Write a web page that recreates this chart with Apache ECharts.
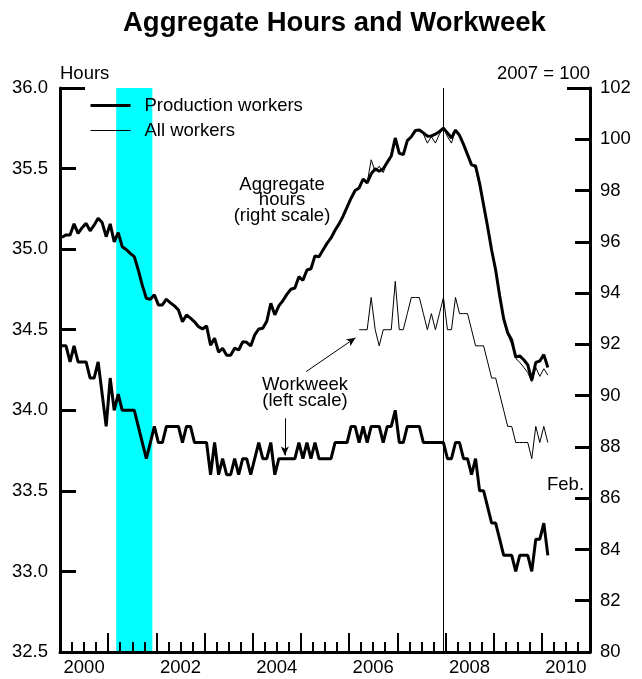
<!DOCTYPE html>
<html>
<head>
<meta charset="utf-8">
<title>Aggregate Hours and Workweek</title>
<script src="https://cdn.jsdelivr.net/npm/echarts@6/dist/echarts.min.js"></script>
<style>
  html, body { margin: 0; padding: 0; background: #fff; }
  #chart { width: 642px; height: 679px; }
</style>
</head>
<body>
<div id="chart"></div>
<script>
// monthly data, month 0 = Jan 2000
var startYear = 2000
var yearLabels = [2000, 2002, 2004, 2006, 2008, 2010]
var recession = [14, 23] // Mar 2001 - Nov 2001
var peakMonth = 95 // Dec 2007

// average weekly hours, production workers (left scale)
var workweekProd = [
  34.4, 34.4, 34.3, 34.4, 34.3, 34.3, 34.3, 34.2, 34.2, 34.3, 34.1, 33.9,
  34.2, 34.0, 34.1, 34.0, 34.0, 34.0, 34.0, 33.9, 33.8, 33.7, 33.8, 33.9,
  33.8, 33.8, 33.9, 33.9, 33.9, 33.9, 33.8, 33.9, 33.9, 33.8, 33.8, 33.8,
  33.8, 33.6, 33.8, 33.6, 33.7, 33.6, 33.6, 33.7, 33.6, 33.7, 33.7, 33.6,
  33.7, 33.8, 33.7, 33.7, 33.8, 33.6, 33.7, 33.7, 33.7, 33.7, 33.7, 33.8,
  33.7, 33.8, 33.7, 33.8, 33.7, 33.7, 33.7, 33.7, 33.8, 33.8, 33.8, 33.8,
  33.9, 33.9, 33.8, 33.9, 33.8, 33.9, 33.9, 33.9, 33.8, 33.9, 33.9, 34.0,
  33.8, 33.8, 33.9, 33.9, 33.9, 33.9, 33.8, 33.8, 33.8, 33.8, 33.8, 33.8,
  33.7, 33.7, 33.8, 33.8, 33.7, 33.7, 33.6, 33.7, 33.5, 33.5, 33.4, 33.3,
  33.3, 33.2, 33.1, 33.1, 33.1, 33.0, 33.1, 33.1, 33.1, 33.0, 33.2, 33.2,
  33.3, 33.1
]

// all workers series start in Mar 2006
var allStart = 74
var workweekAll = [
  34.5, 34.5, 34.5, 34.7, 34.5, 34.4, 34.5, 34.5, 34.5, 34.8,
  34.5, 34.5, 34.6, 34.7, 34.7, 34.7, 34.6, 34.5, 34.6, 34.5, 34.6, 34.7,
  34.5, 34.5, 34.7, 34.6, 34.6, 34.6, 34.5, 34.4, 34.4, 34.4, 34.3, 34.2,
  34.2, 34.1, 34.0, 33.9, 33.9, 33.8, 33.8, 33.8, 33.8, 33.7, 33.9, 33.8,
  33.9, 33.8
]

// aggregate hours index, 2007 = 100 (right scale)
var aggProd = [
  96.18, 96.27, 96.27, 96.70, 96.33, 96.55, 96.72, 96.43, 96.65, 96.92, 96.75, 96.20,
  96.70, 96.00, 96.36, 95.81, 95.70, 95.55, 95.42, 94.90, 94.30, 93.80, 93.76, 93.93,
  93.54, 93.54, 93.76, 93.62, 93.50, 93.34, 92.88, 93.15, 93.02, 92.88, 92.69, 92.60,
  92.72, 91.97, 92.24, 91.70, 91.85, 91.58, 91.58, 91.85, 91.78, 92.10, 92.08, 91.94,
  92.37, 92.60, 92.63, 92.90, 93.60, 93.15, 93.50, 93.70, 93.95, 94.15, 94.20, 94.64,
  94.50, 94.90, 94.95, 95.45, 95.42, 95.68, 95.94, 96.15, 96.45, 96.70, 97.00, 97.35,
  97.70, 98.00, 98.10, 98.45, 98.30, 98.65, 98.85, 98.75, 98.85, 99.10, 99.35, 100.05,
  99.45, 99.40, 99.95, 100.10, 100.34, 100.36, 100.25, 100.12, 100.13, 100.20, 100.30, 100.43,
  100.25, 100.05, 100.36, 100.15, 99.80, 99.40, 99.00, 98.96, 98.28, 97.44, 96.59, 95.68,
  94.90, 93.90, 93.00, 92.45, 92.17, 91.50, 91.55, 91.40, 91.20, 90.60, 91.30, 91.35,
  91.60, 91.10
]

var aggAll = [
  98.10, 98.45, 98.30, 99.20, 98.75, 98.95, 98.70, 99.10, 99.30, 99.95,
  99.45, 99.45, 99.90, 100.15, 100.38, 100.38, 100.20, 99.85, 100.10, 99.85, 100.20, 100.43,
  100.10, 99.85, 100.36, 100.15, 99.80, 99.40, 99.05, 98.85, 98.20, 97.40, 96.60, 95.70,
  94.90, 93.90, 93.00, 92.40, 92.00, 91.45, 91.30, 91.10, 90.90, 90.55, 91.10, 90.75,
  91.05, 90.80
]

// points are plotted mid-month
function toPoints (values, start) {
  return values.map(function (v, i) { return [start + i + 0.5, v] })
}

var font = "'Liberation Sans', Arial, Helvetica, sans-serif"
var fs = 18.5

var myChart = echarts.init(document.getElementById('chart'))
myChart.setOption({
  animation: false,
  backgroundColor: '#fff',
  textStyle: { fontFamily: font, color: '#000' },
  title: {
    text: 'Aggregate Hours and Workweek',
    left: 118,
    top: 4,
    textStyle: { fontFamily: font, fontSize: 27.5, fontWeight: 'bold', color: '#000' }
  },
  legend: {
    orient: 'vertical',
    left: 84,
    top: 91,
    itemWidth: 40,
    itemHeight: 14,
    itemGap: 6,
    data: [
      { name: 'Production workers', lineStyle: { width: 3, color: '#000' } },
      { name: 'All workers', lineStyle: { width: 1, color: '#000' } }
    ],
    itemStyle: { opacity: 0 },
    textStyle: { fontFamily: font, fontSize: fs, color: '#000', padding: [0, 0, 0, 9] }
  },
  grid: { left: 60, right: 52, top: 88, bottom: 27, outerBoundsMode: 'none' },
  xAxis: [
    {
      type: 'value', position: 'bottom', min: 0, max: 132, interval: 3, z: 10,
      axisLine: { show: true, onZero: false, lineStyle: { color: '#000', width: 3 } },
      axisTick: { show: true, inside: true, length: 10, lineStyle: { color: '#000', width: 2 } },
      axisLabel: { show: false },
      splitLine: { show: false }
    },
    {
      type: 'value', position: 'bottom', min: 0, max: 132, interval: 12, z: 10,
      axisLine: { show: false, onZero: false },
      axisTick: { show: true, inside: true, length: 19, lineStyle: { color: '#000', width: 2 } },
      axisLabel: { show: false },
      splitLine: { show: false }
    },
    {
      // labels sit in the middle of each year
      type: 'value', position: 'bottom', min: 0, max: 132, interval: 6, z: 10,
      axisLine: { show: false, onZero: false },
      axisTick: { show: false },
      splitLine: { show: false },
      axisLabel: {
        show: true, margin: 6, fontSize: fs, fontFamily: font, color: '#000',
        hideOverlap: false,
        formatter: function (v) {
          if ((v - 6) % 12 !== 0) return ''
          var y = startYear + (v - 6) / 12
          return yearLabels.indexOf(y) >= 0 ? String(y) : ''
        }
      }
    }
  ],
  yAxis: [
    {
      type: 'value', position: 'left', min: 32.5, max: 36, interval: 0.5, z: 10,
      name: 'Hours', nameLocation: 'end', nameGap: 5,
      nameTextStyle: { align: 'left', fontSize: fs, fontFamily: font, color: '#000' },
      axisLine: { show: true, onZero: false, lineStyle: { color: '#000', width: 3 } },
      axisTick: { show: true, inside: true, length: 16, lineStyle: { color: '#000', width: 3 } },
      axisLabel: { margin: 12, fontSize: fs, fontFamily: font, color: '#000', formatter: function (v) { return v.toFixed(1) } },
      splitLine: { show: false }
    },
    {
      type: 'value', position: 'right', min: 80, max: 102, interval: 2, z: 10,
      name: '2007 = 100', nameLocation: 'end', nameGap: 5,
      nameTextStyle: { align: 'right', fontSize: fs, fontFamily: font, color: '#000' },
      axisLine: { show: true, onZero: false, lineStyle: { color: '#000', width: 3 } },
      axisTick: { show: true, inside: true, length: 15, lineStyle: { color: '#000', width: 3 } },
      axisLabel: { margin: 10, fontSize: fs, fontFamily: font, color: '#000' },
      splitLine: { show: false }
    },
    {
      type: 'value', position: 'left', min: 32.5, max: 36, interval: 3.5, z: 10,
      axisLine: { show: false, onZero: false },
      axisTick: { show: true, inside: true, length: 25, lineStyle: { color: '#000', width: 3 } },
      axisLabel: { show: false },
      splitLine: { show: false }
    },
    {
      type: 'value', position: 'right', min: 80, max: 102, interval: 22, z: 10,
      axisLine: { show: false, onZero: false },
      axisTick: { show: true, inside: true, length: 23, lineStyle: { color: '#000', width: 3 } },
      axisLabel: { show: false },
      splitLine: { show: false }
    }
  ],
  graphic: [
    {
      type: 'text', x: 282, y: 177, z: 20,
      style: { text: 'Aggregate\nhours\n(right scale)', align: 'center', verticalAlign: 'top', lineHeight: 15.5, font: fs + 'px ' + font, fill: '#000' }
    },
    {
      type: 'text', x: 305, y: 377, z: 20,
      style: { text: 'Workweek\n(left scale)', align: 'center', verticalAlign: 'top', lineHeight: 16, font: fs + 'px ' + font, fill: '#000' }
    },
    {
      type: 'text', x: 547, y: 485, z: 20,
      style: { text: 'Feb.', align: 'left', verticalAlign: 'middle', font: fs + 'px ' + font, fill: '#000' }
    }
  ],
  series: [
    {
      name: 'Production workers', type: 'line', xAxisIndex: 0, yAxisIndex: 1,
      data: toPoints(aggProd, 0), symbol: 'none', color: '#000',
      lineStyle: { color: '#000', width: 3 },
      markArea: {
        silent: true,
        itemStyle: { color: '#00FFFF' },
        data: [[{ xAxis: recession[0] }, { xAxis: recession[1] }]]
      },
      markLine: {
        silent: true, symbol: 'none', label: { show: false },
        lineStyle: { color: '#000', width: 1, type: 'solid' },
        data: [{ xAxis: peakMonth + 0.5 }]
      }
    },
    {
      name: 'All workers', type: 'line', xAxisIndex: 0, yAxisIndex: 1,
      data: toPoints(aggAll, allStart), symbol: 'none', color: '#000',
      lineStyle: { color: '#000', width: 1 }
    },
    {
      name: 'Production workers', type: 'line', xAxisIndex: 0, yAxisIndex: 0,
      data: toPoints(workweekProd, 0), symbol: 'none', color: '#000',
      lineStyle: { color: '#000', width: 3 }
    },
    {
      name: 'All workers', type: 'line', xAxisIndex: 0, yAxisIndex: 0,
      data: toPoints(workweekAll, allStart), symbol: 'none', color: '#000',
      lineStyle: { color: '#000', width: 1 },
      markLine: {
        silent: true, symbol: ['none', 'arrow'], symbolSize: [6, 9], label: { show: false },
        lineStyle: { color: '#000', width: 1, type: 'solid' },
        data: [
          [{ coord: [61.3, 34.24] }, { coord: [73.6, 34.45] }],
          [{ coord: [56, 33.95] }, { coord: [56, 33.72] }]
        ]
      }
    }
  ]
})
</script>
</body>
</html>
